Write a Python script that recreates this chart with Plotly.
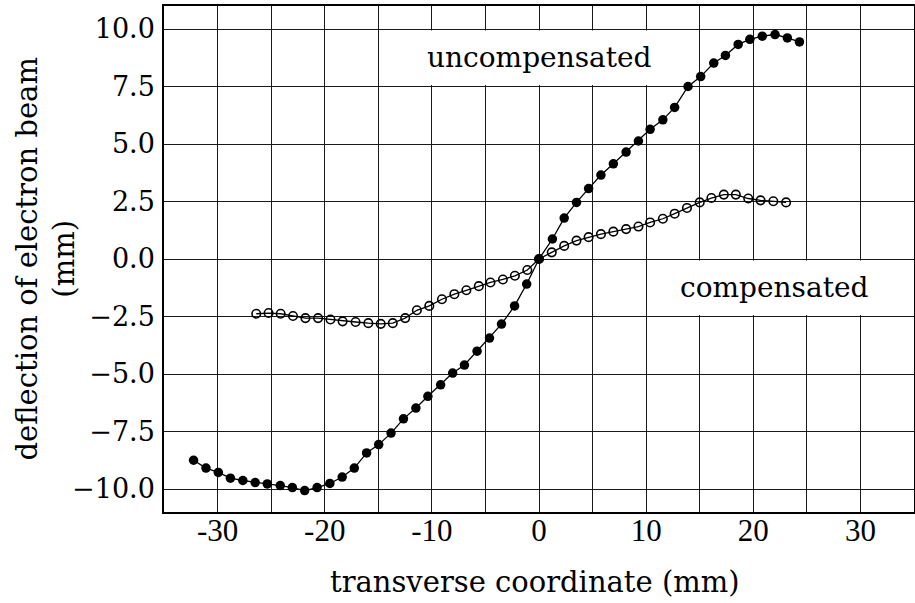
import plotly.graph_objects as go

# ---- data ----
unc_x = [-32.24, -31.08, -29.93, -28.80, -27.64, -26.49, -25.36, -24.15, -23.02, -21.87,
         -20.71, -19.52, -18.37, -17.24, -16.09, -14.96, -13.81, -12.65, -11.49, -10.37,
         -9.18, -8.06, -6.96, -5.78, -4.62, -3.50, -2.28, -1.15, 0.0,
         1.25, 2.35, 3.50, 4.63, 5.78, 6.94, 8.13, 9.28, 10.37, 11.56, 12.66, 13.91,
         15.09, 16.31, 17.40, 18.59, 19.68, 20.84, 22.03, 23.18, 24.31]
unc_y = [-8.75, -9.09, -9.28, -9.53, -9.63, -9.72, -9.78, -9.85, -9.94, -10.07,
         -9.94, -9.76, -9.48, -9.09, -8.43, -8.07, -7.57, -6.95, -6.48, -5.97,
         -5.47, -4.96, -4.61, -4.01, -3.44, -2.83, -2.04, -1.09, 0.0,
         0.87, 1.78, 2.46, 3.06, 3.65, 4.14, 4.65, 5.13, 5.64, 6.05, 6.59, 7.50,
         7.93, 8.52, 8.85, 9.33, 9.55, 9.69, 9.76, 9.61, 9.44]

comp_x = [-26.39, -25.24, -24.11, -22.96, -21.80, -20.62, -19.46, -18.33, -17.12, -15.93,
          -14.77, -13.65, -12.49, -11.40, -10.24, -9.06, -7.90, -6.78, -5.62, -4.53,
          -3.37, -2.25, -1.09, 0.0,
          1.19, 2.35, 3.50, 4.63, 5.78, 6.94, 8.13, 9.28, 10.37, 11.56, 12.66, 13.81,
          15.00, 16.09, 17.25, 18.37, 19.53, 20.68, 21.87, 23.06]
comp_y = [-2.38, -2.35, -2.38, -2.48, -2.57, -2.57, -2.63, -2.71, -2.74, -2.79,
          -2.82, -2.79, -2.57, -2.23, -2.04, -1.75, -1.53, -1.36, -1.18, -1.02,
          -0.89, -0.73, -0.48, 0.0,
          0.29, 0.57, 0.80, 0.95, 1.08, 1.19, 1.30, 1.41, 1.59, 1.75, 1.97, 2.22,
          2.46, 2.65, 2.80, 2.80, 2.63, 2.55, 2.51, 2.46]

x_tick_vals = [-30, -20, -10, 0, 10, 20, 30]
y_tick_vals = [-10.0, -7.5, -5.0, -2.5, 0.0, 2.5, 5.0, 7.5, 10.0]

label_unc = "uncompensated"
label_comp = "compensated"
x_title = "transverse coordinate (mm)"
y_title = "deflection of electron beam<br>(mm)"

SERIF = "DejaVu Serif"
NARROW = "Liberation Serif"

fig = go.Figure()

fig.add_trace(go.Scatter(
    x=comp_x, y=comp_y, mode="lines+markers",
    line=dict(color="black", width=1.3),
    marker=dict(symbol="circle-open", size=8.5, color="black", line=dict(width=1.6)),
    showlegend=False))

fig.add_trace(go.Scatter(
    x=unc_x, y=unc_y, mode="lines+markers",
    line=dict(color="black", width=1.3),
    marker=dict(symbol="circle", size=9.5, color="black"),
    showlegend=False))

# white label boxes (between gridlines and traces)
fig.add_shape(type="rect", xref="x", yref="y", x0=-14.85, x1=14.85, y0=7.56, y1=9.94,
              fillcolor="white", line=dict(width=0), layer="between")
fig.add_shape(type="rect", xref="x", yref="y", x0=10.15, x1=35, y0=-2.44, y1=-0.06,
              fillcolor="white", line=dict(width=0), layer="between")

fig.add_annotation(x=0, y=8.75, xref="x", yref="y", text=label_unc, showarrow=False,
                   font=dict(family=SERIF, size=28, color="black"))
fig.add_annotation(x=22, y=-1.25, xref="x", yref="y", text=label_comp, showarrow=False,
                   font=dict(family=SERIF, size=28, color="black"))

# axis titles
fig.add_annotation(x=0.495, y=-0.138, xref="paper", yref="paper", text=x_title,
                   showarrow=False, xanchor="center", yanchor="middle",
                   font=dict(family=SERIF, size=29, color="black"))
fig.add_annotation(x=-0.158, y=0.5, xref="paper", yref="paper", text=y_title,
                   showarrow=False, xanchor="center", yanchor="middle", textangle=-90,
                   font=dict(family=SERIF, size=29, color="black"))

fig.update_xaxes(
    range=[-35, 35], tickvals=x_tick_vals, ticktext=[str(v) for v in x_tick_vals],
    showgrid=True, gridcolor="#1a1a1a", gridwidth=1,
    minor=dict(dtick=5, tick0=0, showgrid=True, gridcolor="#1a1a1a", gridwidth=1),
    showline=True, linecolor="black", linewidth=1.5, mirror=True,
    zeroline=False, ticks="", ticklen=0, ticklabelstandoff=-10, automargin=False,
    tickfont=dict(family=NARROW, size=31, color="black"),
)
fig.update_yaxes(
    range=[-11, 11], tickvals=y_tick_vals, tickformat=".1f",
    showgrid=True, gridcolor="#1a1a1a", gridwidth=1,
    showline=True, linecolor="black", linewidth=1.5, mirror=True,
    zeroline=False, ticks="", ticklen=0, ticklabelstandoff=2, automargin=False,
    tickfont=dict(family=SERIF, size=27, color="black"),
)

fig.update_layout(
    width=915, height=603,
    margin=dict(l=164, r=1, t=6, b=91, autoexpand=False),
    paper_bgcolor="white", plot_bgcolor="white",
    showlegend=False,
)

fig.write_html("out.html", config={"displayModeBar": False},
               post_script="document.body.style.margin='0';document.body.style.overflow='hidden';")
